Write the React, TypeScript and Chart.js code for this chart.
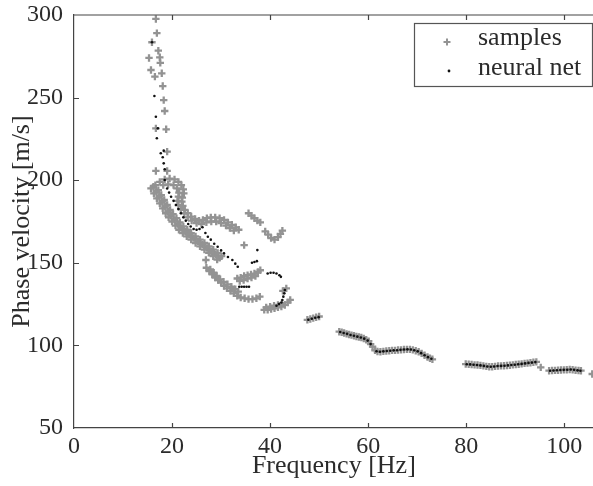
import React, { useEffect, useRef } from 'react';
import { Chart, registerables } from 'chart.js';

Chart.register(...registerables);

// ---- axis ticks / labels ----
const xTicks = [0, 20, 40, 60, 80, 100];
const yTicks = [50, 100, 150, 200, 250, 300];
const xTitle = 'Frequency [Hz]';
const yTitle = 'Phase velocity [m/s]';
const legendLabels = ['samples', 'neural net'];

type P = [number, number];

// ---- samples (frequency Hz, phase velocity m/s) ----
const samplesSparse: P[] = [
  [16.7, 297.6], [16.9, 289.0], [15.9, 283.5], [17.2, 278.4], [15.3, 274.0], [17.5, 274.4],
  [17.6, 271.0], [15.7, 266.7], [16.5, 262.7], [17.9, 264.7], [18.1, 257.0], [18.3, 248.5],
  [18.5, 241.9], [16.7, 231.4], [18.8, 230.8], [19.0, 217.3], [16.7, 205.6], [19.0, 205.6],
];
const samplesBandLower: P[] = [
  [16.6, 197], [17.2, 194], [17.8, 191], [18.4, 188], [19.0, 185], [19.6, 182], [20.2, 179.5],
  [20.9, 177], [21.6, 174.5], [22.3, 172], [23.1, 170], [23.9, 168], [24.8, 166], [25.7, 164],
  [26.6, 162], [27.5, 160], [28.4, 158], [29.3, 156], [30.1, 154],
  [16.2, 196], [16.8, 193], [17.4, 190], [18.0, 187], [18.6, 184], [19.2, 181], [19.8, 178.5],
  [20.5, 176], [21.2, 173.5], [21.9, 171], [22.7, 169], [23.5, 167], [24.4, 165], [25.3, 163],
  [26.2, 161], [27.1, 159], [28.0, 157], [28.9, 155], [29.7, 153],
  [15.7, 195], [16.3, 192], [16.9, 189], [17.5, 186], [18.1, 183], [18.7, 180], [19.3, 177.5],
  [20.0, 175], [20.7, 172.5], [21.4, 170], [22.2, 168], [23.0, 166], [23.9, 164], [24.8, 162],
  [25.7, 160], [26.6, 158], [27.5, 156], [28.4, 154], [29.2, 152],
];
const samplesBandUpper: P[] = [
  [17.5, 199], [18.5, 200.5], [19.5, 201], [20.5, 200.5], [21.3, 199], [21.9, 197], [22.3, 194.5],
  [22.4, 192], [22.1, 189.5], [22.0, 187], [22.2, 184.5], [22.6, 182], [23.2, 180], [23.9, 178],
  [24.7, 176.5], [25.5, 175.5], [26.3, 176], [27.1, 177], [27.9, 177.5], [28.8, 177.5], [29.7, 177],
  [30.6, 176], [31.4, 174.5], [32.2, 173], [33.0, 171.5], [33.6, 170],
  [18.2, 197], [19.2, 197.5], [20.3, 197], [21.0, 195], [21.4, 192.5], [21.3, 190], [21.1, 187.5],
  [21.3, 185], [21.8, 182.5], [22.5, 180], [23.2, 177.5], [24.0, 175.5], [25.0, 174], [26.0, 173.5],
  [27.0, 174.5], [28.0, 175], [29.0, 175], [30.0, 174], [31.0, 172.5], [31.8, 171], [32.6, 169.5],
];
const samplesIsolated: P[] = [[34.7, 160.7], [26.9, 151.7]];
const samplesV: P[] = [
  [35.6, 180], [36.2, 178.5], [36.8, 177], [37.4, 175.5], [38.0, 174.5],
  [39.0, 169], [39.6, 167], [40.2, 165], [40.9, 164], [41.6, 165.5], [42.1, 167.5], [42.5, 169.5],
];
const samplesLow: P[] = [
  [27.0, 147], [27.6, 145], [28.2, 143], [28.8, 141], [29.4, 139.5], [30.0, 138], [30.6, 136],
  [31.2, 134.5], [31.9, 133], [32.6, 131.5], [33.3, 130], [34.0, 129], [34.8, 128.5], [35.6, 128],
  [36.4, 128], [37.2, 128.5], [37.9, 129.5],
  [27.8, 146], [28.5, 144], [29.1, 142], [29.8, 140], [30.5, 138.5], [31.3, 137], [32.1, 135.5],
  [32.9, 134], [33.5, 132.5],
];
const samplesMid: P[] = [
  [33.3, 140.5], [34.0, 141], [34.7, 142], [35.4, 142.5], [36.1, 143], [36.8, 143.5], [37.5, 144.5],
  [38.0, 145.5], [33.8, 139], [34.6, 139.5], [35.4, 140.5], [36.2, 141], [37.0, 142],
];
const samplesLowRight: P[] = [
  [38.8, 121.5], [39.5, 121.5], [40.2, 122], [40.9, 122.5], [41.6, 123], [42.3, 123.5], [43.0, 124.5],
  [43.6, 126], [44.1, 127.5], [39.2, 123], [40.0, 123.5], [40.8, 124], [41.6, 124.5], [42.4, 125.5],
  [43.3, 134.5], [42.6, 133],
];
const samplesTail: P[] = [
  [47.6, 115.5], [48.2, 116], [48.8, 116.5], [49.4, 117], [50.0, 117.5],
  [54.1, 108.3], [54.6, 108], [55.1, 107.5], [55.6, 107], [56.1, 106.6], [56.6, 106.2], [57.1, 105.8],
  [57.6, 105.4], [58.1, 105.1], [58.6, 104.8], [59.1, 104.2], [59.6, 103.4], [60.1, 102.5],
  [60.5, 100.8], [60.9, 99.2],
  [61.4, 97], [61.9, 96.3], [62.5, 96.2], [63.1, 96.4], [63.7, 96.6], [64.3, 96.8], [64.9, 97],
  [65.5, 97], [66.1, 97.2], [66.7, 97.3], [67.3, 97.5], [67.9, 97.6], [68.5, 97.6], [69.1, 97.3],
  [69.7, 96.8], [70.3, 96.2], [70.9, 95.2], [71.5, 94], [72.1, 93], [72.6, 92.2], [73.1, 91.6],
  [79.9, 88.7], [80.5, 88.6], [81.1, 88.4], [81.7, 88.2], [82.3, 88.1], [82.9, 87.9], [83.5, 87.6],
  [84.1, 87.3], [84.7, 87.1], [85.3, 87.1], [85.9, 87.3], [86.5, 87.5], [87.1, 87.6], [87.7, 87.7],
  [88.3, 87.8], [88.9, 88], [89.5, 88.2], [90.1, 88.4], [90.7, 88.6], [91.3, 88.8], [91.9, 89.1],
  [92.5, 89.3], [93.1, 89.5], [93.7, 89.8], [94.3, 90], [95.2, 86.7],
  [96.9, 84.7], [97.5, 84.8], [98.1, 84.9], [98.7, 85], [99.3, 85.1], [99.9, 85.2], [100.5, 85.3],
  [101.1, 85.4], [101.7, 85.3], [102.3, 85], [102.9, 84.8], [103.4, 84.7], [105.7, 82.7],
];

// ---- neural net output ----
const nnSparse: P[] = [
  [15.9, 283.5], [16.4, 251.0], [16.7, 238.4], [17.1, 231.4], [16.9, 225.4], [17.7, 216.3],
  [18.3, 217.9], [18.1, 213.9], [18.3, 210.2], [18.5, 206.6], [18.5, 200.1],
];
const nnMain: P[] = [
  [19.0, 195], [19.4, 192.5], [19.8, 190], [20.3, 187.5], [20.8, 185], [21.3, 182.5], [21.8, 180],
  [22.3, 177.5], [22.8, 175.5], [23.3, 173.5], [23.8, 172], [24.4, 170.5], [25.0, 170], [25.6, 170.5],
  [26.2, 171.5], [26.8, 168], [27.3, 165.8], [27.9, 164], [28.6, 161.5], [29.3, 159.7], [30.0, 157.5],
  [30.6, 155.7], [31.4, 153.5], [32.3, 151.7], [32.9, 149.5], [33.4, 147.6],
];
const nnDashes: P[] = [
  [36.3, 150], [36.8, 150.5], [37.3, 151], [37.4, 157.7],
  [39.5, 143.5], [40.1, 144], [40.7, 144], [41.3, 143.5], [41.9, 142.5], [42.2, 141.5],
  [33.7, 135.5], [34.2, 135.5], [34.7, 135.5], [35.2, 135.5], [35.7, 135.5],
  [43.0, 133.5], [42.9, 131.5], [42.7, 129.5], [42.5, 127.5],
  [41.3, 124], [41.8, 125], [42.3, 126],
];
const nnTail: P[] = [
  [47.8, 115.5], [48.5, 116.1], [49.2, 116.7], [49.9, 117.1],
  [54.3, 108.1], [55.0, 107.5], [55.7, 107.0], [56.4, 106.3], [57.1, 105.8], [57.8, 105.3], [58.5, 104.8],
  [59.2, 104.1], [59.9, 102.9], [60.5, 100.8],
  [61.7, 96.5], [62.4, 96.2], [63.1, 96.4], [63.8, 96.6], [64.5, 96.8], [65.2, 97.0], [65.9, 97.1],
  [66.6, 97.3], [67.3, 97.5], [68.0, 97.6], [68.7, 97.5], [69.4, 97.1], [70.1, 96.4], [70.8, 95.3],
  [71.5, 94.0], [72.2, 92.9], [72.9, 91.9],
  [80.1, 88.6], [80.8, 88.5], [81.5, 88.3], [82.2, 88.1], [82.9, 87.9], [83.6, 87.6], [84.3, 87.2],
  [85.0, 87.1], [85.7, 87.2], [86.4, 87.5], [87.1, 87.6], [87.8, 87.7], [88.5, 87.9], [89.2, 88.1],
  [89.9, 88.3], [90.6, 88.6], [91.3, 88.8], [92.0, 89.1], [92.7, 89.4], [93.4, 89.6], [94.1, 89.9],
  [97.1, 84.7], [97.8, 84.8], [98.5, 85.0], [99.2, 85.1], [99.9, 85.2], [100.6, 85.3], [101.3, 85.4],
  [102.0, 85.2], [102.7, 84.9], [103.3, 84.7],
];

const samples = [
  ...samplesSparse, ...samplesBandLower, ...samplesBandUpper, ...samplesIsolated, ...samplesV,
  ...samplesLow, ...samplesMid, ...samplesLowRight, ...samplesTail,
];
const neuralNet = [...nnSparse, ...nnMain, ...nnDashes, ...nnTail];

const FONT = "'Liberation Serif', 'DejaVu Serif', serif";
const GRAY = '#939393';
const INK = '#2b2b2b';
const AXIS = '#444444';

const framePlugin = {
  id: 'frame',
  afterDatasetsDraw(chart: any) {
    const { ctx, chartArea: a, scales } = chart;
    ctx.save();
    ctx.strokeStyle = AXIS;
    ctx.lineWidth = 1.2;
    ctx.beginPath();
    ctx.moveTo(a.left, a.top);
    ctx.lineTo(a.right + 10, a.top);
    ctx.stroke();
    const tl = 5;
    ctx.beginPath();
    for (const v of xTicks) {
      if (v === 0) continue;
      const px = Math.round(scales.x.getPixelForValue(v)) + 0.5;
      ctx.moveTo(px, a.bottom);
      ctx.lineTo(px, a.bottom - tl);
      ctx.moveTo(px, a.top);
      ctx.lineTo(px, a.top + tl);
    }
    for (const v of yTicks) {
      if (v === 50 || v === 300) continue;
      const py = Math.round(scales.y.getPixelForValue(v)) + 0.5;
      ctx.moveTo(a.left, py);
      ctx.lineTo(a.left + tl, py);
    }
    ctx.stroke();

    // legend box
    const bx = 414;
    const by = a.top + 8;
    const bw = 178;
    const bh = 63;
    ctx.fillStyle = '#ffffff';
    ctx.fillRect(bx, by, bw, bh);
    ctx.strokeStyle = '#555555';
    ctx.lineWidth = 1.2;
    ctx.strokeRect(bx + 0.5, by + 0.5, bw, bh);
    ctx.strokeStyle = GRAY;
    ctx.lineWidth = 2;
    const mx = bx + 33;
    const my = by + 19;
    ctx.beginPath();
    ctx.moveTo(mx - 3.5, my);
    ctx.lineTo(mx + 3.5, my);
    ctx.moveTo(mx, my - 3.5);
    ctx.lineTo(mx, my + 3.5);
    ctx.stroke();
    ctx.fillStyle = '#111111';
    ctx.beginPath();
    ctx.arc(bx + 35, by + 48, 1.4, 0, Math.PI * 2);
    ctx.fill();
    ctx.fillStyle = INK;
    ctx.font = `26px ${FONT}`;
    ctx.textBaseline = 'alphabetic';
    ctx.textAlign = 'left';
    ctx.fillText(legendLabels[0], bx + 64, by + 22);
    ctx.fillText(legendLabels[1], bx + 64, by + 52);
    ctx.restore();
  },
};

const CANVAS_W = 600;

export default function App() {
  const ref = useRef<HTMLCanvasElement | null>(null);
  useEffect(() => {
    if (!ref.current) return;
    const chart = new Chart(ref.current, {
      type: 'scatter',
      data: {
        datasets: [
          {
            label: legendLabels[1],
            data: neuralNet.map(([x, y]) => ({ x, y })),
            pointStyle: 'circle',
            pointRadius: 1.3,
            pointBorderWidth: 0,
            backgroundColor: '#111111',
            borderColor: '#111111',
            order: 0,
          },
          {
            label: legendLabels[0],
            data: samples.map(([x, y]) => ({ x, y })),
            pointStyle: 'cross',
            pointRadius: 3.7,
            pointBorderWidth: 2.3,
            borderColor: GRAY,
            backgroundColor: GRAY,
            order: 1,
          },
        ],
      },
      options: {
        responsive: false,
        animation: false,
        events: [],
        layout: { padding: { top: 15, right: 0, left: 0, bottom: 0 } },
        plugins: { legend: { display: false }, tooltip: { enabled: false } },
        scales: {
          x: {
            type: 'linear',
            min: 0,
            max: 106,
            afterFit: (s: any) => {
              s.height = 58;
            },
            afterBuildTicks: (s: any) => {
              s.ticks = xTicks.map((v) => ({ value: v }));
            },
            grid: { display: false },
            border: { display: true, color: AXIS, width: 1.2 },
            ticks: {
              includeBounds: false,
              padding: -4,
              color: INK,
              font: { family: FONT, size: 24 },
            },
            title: {
              display: true,
              text: xTitle,
              color: INK,
              font: { family: FONT, size: 26 },
              padding: { top: 0, bottom: 4 },
            },
          },
          y: {
            type: 'linear',
            min: 50,
            max: 300,
            afterFit: (s: any) => {
              s.width = 74;
            },
            afterBuildTicks: (s: any) => {
              s.ticks = yTicks.map((v) => ({ value: v }));
            },
            grid: { display: false },
            border: { display: true, color: AXIS, width: 1.2 },
            ticks: {
              padding: 3,
              color: INK,
              font: { family: FONT, size: 24, lineHeight: 1 },
            },
            title: {
              display: true,
              text: yTitle,
              color: INK,
              font: { family: FONT, size: 26 },
              padding: { top: 7, bottom: 0 },
            },
          },
        },
      },
      plugins: [framePlugin],
    });
    return () => chart.destroy();
  }, []);
  return (
    <div style={{ position: 'absolute', left: 0, top: 0, width: 593, height: 486, overflow: 'hidden', background: '#fff' }}>
      <canvas ref={ref} width={CANVAS_W} height={486} style={{ display: 'block' }} />
    </div>
  );
}
